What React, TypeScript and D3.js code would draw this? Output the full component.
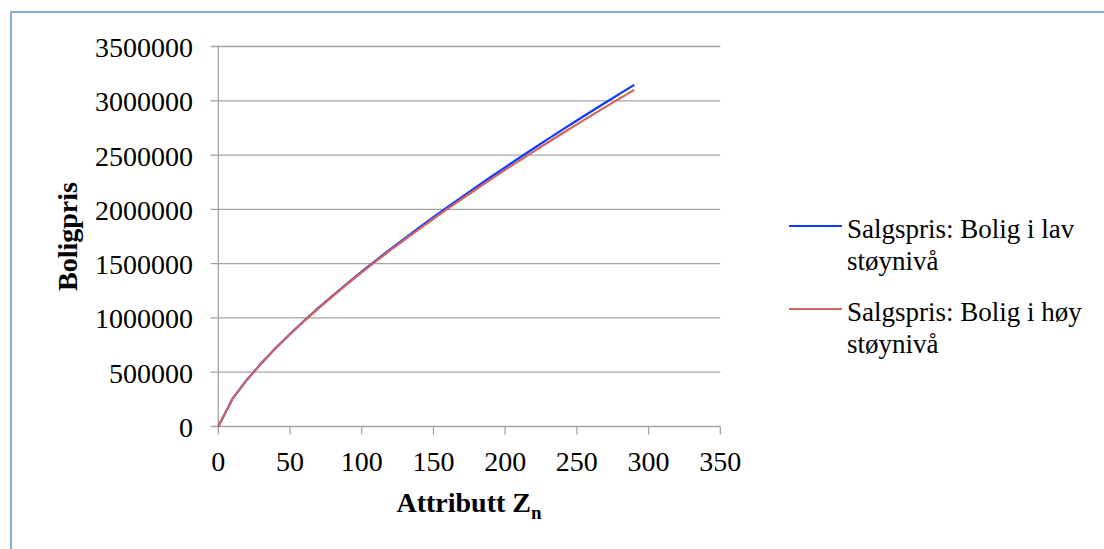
import React from "react";
import * as d3 from "d3";

// Attribute values along the x axis
const zValues = [0, 10, 20, 30, 40, 50, 60, 70, 80, 90, 100, 110, 120, 130, 140, 150, 160, 170, 180, 190, 200, 210, 220, 230, 240, 250, 260, 270, 280, 290];

// Sale price, dwelling at low noise level
const lavStoy = [0, 257700, 431400, 583000, 722000, 852400, 975900, 1094300, 1208400, 1319100, 1426400, 1531200, 1633400, 1733700, 1831500, 1928000, 2023000, 2115800, 2207500, 2297800, 2387200, 2475300, 2562800, 2648600, 2733800, 2818100, 2901400, 2983900, 3065400, 3146200];

// Sale price, dwelling at high noise level
const hoyStoy = [0, 257600, 431000, 582100, 720600, 850300, 973000, 1090500, 1203600, 1313200, 1419300, 1522800, 1623600, 1722400, 1818700, 1913500, 2006800, 2097800, 2187600, 2276000, 2363300, 2449300, 2534600, 2618100, 2701000, 2782900, 2863700, 2943600, 3022500, 3100600];

const xTicks = [0, 50, 100, 150, 200, 250, 300, 350];
const yTicks = [0, 500000, 1000000, 1500000, 2000000, 2500000, 3000000, 3500000];

const seriesNames = ["Salgspris: Bolig i lav", "støynivå", "Salgspris: Bolig i høy", "støynivå"];

const W = 1104;
const H = 549;
const FONT = "'Liberation Serif', 'Times New Roman', serif";

export default function App() {
  const x = d3.scaleLinear().domain([0, 350]).range([218.3, 720.3]);
  const y = d3.scaleLinear().domain([0, 3500000]).range([426.5, 46.5]);

  const line = d3
    .line<number>()
    .x((_, i) => x(zValues[i]))
    .y((d) => y(d));

  const grid = "#a3a3a3";
  const blue = "#0a3cff";
  const red = "#d4625c";

  return (
    <svg
      width={W}
      height={H}
      style={{ position: "absolute", left: 0, top: 0, background: "#fff" }}
      fontFamily={FONT}
    >
      <rect x={0} y={0} width={W} height={H} fill="#fff" />
      {/* chart frame */}
      <rect x={11} y={12} width={1300} height={1000} fill="none" stroke="#6e9bd3" strokeWidth={1.6} />

      {/* horizontal gridlines with left tick marks */}
      {yTicks.map((t) => (
        <line key={"g" + t} x1={210.5} x2={720.3} y1={y(t)} y2={y(t)} stroke={grid} strokeWidth={1.3} />
      ))}
      {/* y axis */}
      <line x1={x(0)} x2={x(0)} y1={y(3500000)} y2={y(0)} stroke={grid} strokeWidth={1.3} />
      {/* x tick marks */}
      {xTicks.map((t) => (
        <line key={"xt" + t} x1={x(t)} x2={x(t)} y1={y(0)} y2={y(0) + 8} stroke={grid} strokeWidth={1.3} />
      ))}

      {/* y tick labels */}
      {yTicks.map((t) => (
        <text key={"yl" + t} x={193} y={y(t) + 10.5} textAnchor="end" fontSize={28} fill="#000">
          {d3.format("d")(t)}
        </text>
      ))}
      {/* x tick labels */}
      {xTicks.map((t) => (
        <text key={"xl" + t} x={x(t)} y={471} textAnchor="middle" fontSize={28} fill="#000">
          {t}
        </text>
      ))}

      {/* axis titles */}
      <text x={469} y={512} textAnchor="middle" fontSize={28} fontWeight="bold" fill="#000">
        Attributt Z<tspan fontSize={19} dy={7}>n</tspan>
      </text>
      <text
        transform={`translate(77, ${(y(0) + y(3500000)) / 2}) rotate(-90)`}
        textAnchor="middle"
        fontSize={28}
        fontWeight="bold"
        fill="#000"
      >
        Boligpris
      </text>

      {/* series */}
      <path d={line(lavStoy) ?? ""} fill="none" stroke={blue} strokeWidth={2.2} />
      <path d={line(hoyStoy) ?? ""} fill="none" stroke={red} strokeWidth={2.2} />

      {/* legend */}
      <line x1={789} x2={842} y1={226} y2={226} stroke={blue} strokeWidth={2.2} />
      <text x={847} y={238} fontSize={27} fill="#000">{seriesNames[0]}</text>
      <text x={847} y={270} fontSize={27} fill="#000">{seriesNames[1]}</text>
      <line x1={789} x2={842} y1={309} y2={309} stroke={red} strokeWidth={2.2} />
      <text x={847} y={321} fontSize={27} fill="#000">{seriesNames[2]}</text>
      <text x={847} y={353} fontSize={27} fill="#000">{seriesNames[3]}</text>
    </svg>
  );
}
